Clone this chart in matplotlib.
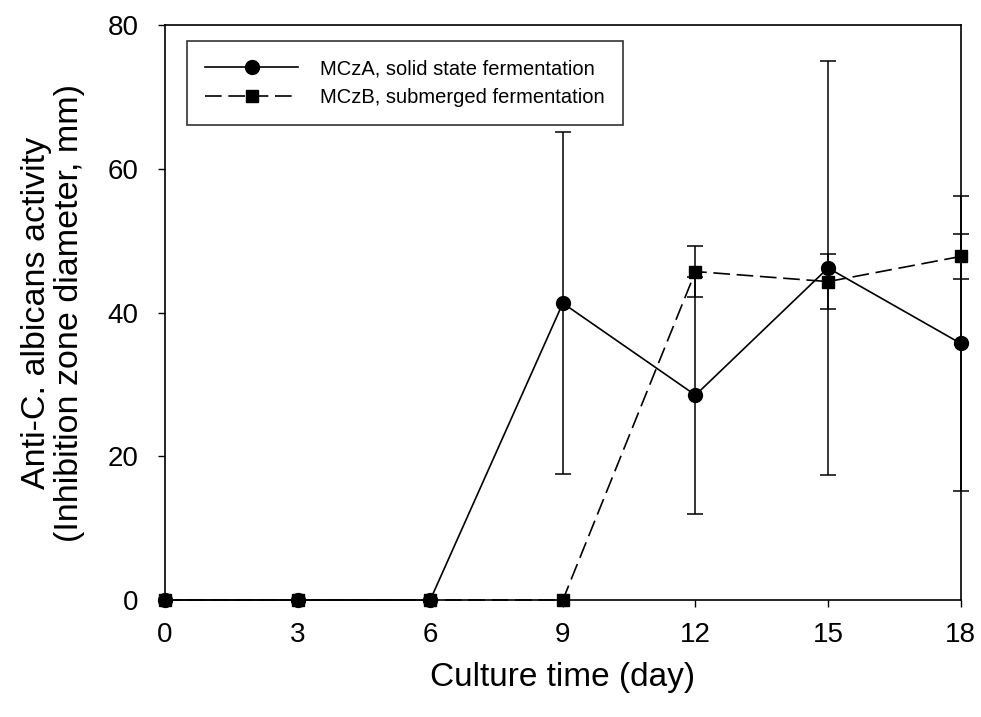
import numpy as np
import matplotlib
matplotlib.use("Agg")
import matplotlib.pyplot as plt

plt.rcParams['font.family'] = ['Liberation Sans', 'DejaVu Sans']

# culture time (day) and inhibition zone diameter (mm)
days = [0, 3, 6, 9, 12, 15, 18]
mcza = [0, 0, 0, 41.3, 28.5, 46.2, 35.7]
mcza_err = [0, 0, 0, 23.8, 16.5, 28.8, 20.5]
mczb = [0, 0, 0, 0, 45.7, 44.3, 47.8]
mczb_err = [0, 0, 0, 0, 3.5, 3.8, 3.1]

labels = ["MCzA, solid state fermentation", "MCzB, submerged fermentation"]
x_ticks = [0, 3, 6, 9, 12, 15, 18]
y_ticks = [0, 20, 40, 60, 80]

fig = plt.figure(figsize=(9.81, 7.17), dpi=100)
ax = fig.add_axes([0.1682, 0.1632, 0.8111, 0.8019])

lw = 1.2
ax.plot(days, mcza, '-', color='black', lw=lw, marker='o', ms=10,
        clip_on=False, zorder=4, label=labels[0])
ax.plot(days, mczb, color='black', lw=lw, ls=(0, (10, 4)), marker='s', ms=9,
        clip_on=False, zorder=4, label=labels[1])

# error bars only where a deviation was measured
for y, e in [(mcza, mcza_err), (mczb, mczb_err)]:
    x = np.array(days)
    y = np.array(y)
    e = np.array(e)
    m = e > 0
    ax.errorbar(x[m], y[m], yerr=e[m], fmt='none', ecolor='black',
                elinewidth=1.1, capsize=6, capthick=1.1, clip_on=False, zorder=3)

ax.set_xlim(0, 18)
ax.set_ylim(0, 80)
ax.set_xticks(x_ticks)
ax.set_yticks(y_ticks)
ax.tick_params(axis='both', direction='out', length=5, width=1, labelsize=20)
ax.tick_params(axis='x', pad=11)
ax.tick_params(axis='y', pad=14)
for sp in ax.spines.values():
    sp.set_linewidth(1.2)

ax.set_xlabel("Culture time (day)", fontsize=24, labelpad=10)
ax.set_ylabel("Anti-C. albicans activity\n(Inhibition zone diameter, mm)",
              fontsize=24.5, labelpad=16, linespacing=1.1)

leg = ax.legend(loc='upper left', bbox_to_anchor=(0.028, 0.972), borderaxespad=0,
                fontsize=14.5, frameon=True, fancybox=False, edgecolor='black',
                handlelength=4.6, handletextpad=1.1, labelspacing=0.5,
                borderpad=0.9)
leg.get_frame().set_linewidth(1.2)

plt.savefig('out.png', dpi=100)
plt.close()
